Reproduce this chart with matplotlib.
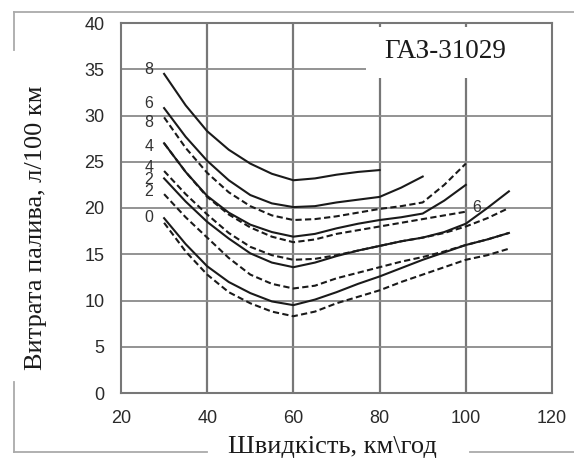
import matplotlib
matplotlib.use("Agg")
import matplotlib.pyplot as plt
from matplotlib.lines import Line2D
from matplotlib.patches import Rectangle

# ---- data ----
speed_30_80 = [30, 35, 40, 45, 50, 55, 60, 65, 70, 75, 80]
speed_30_90 = [30, 35, 40, 45, 50, 55, 60, 65, 70, 75, 80, 85, 90]
speed_30_100 = [30, 35, 40, 45, 50, 55, 60, 65, 70, 75, 80, 85, 90, 95, 100]
speed_30_110 = [30, 35, 40, 45, 50, 55, 60, 65, 70, 75, 80, 85, 90, 95, 100, 105, 110]

solid_8 = [34.5, 31.1, 28.3, 26.3, 24.8, 23.7, 23.0, 23.2, 23.6, 23.9, 24.1]
solid_6 = [30.8, 27.7, 25.1, 23.0, 21.4, 20.5, 20.1, 20.2, 20.6, 20.9, 21.2, 22.2, 23.4]
dashed_8 = [29.8, 26.5, 23.8, 21.7, 20.2, 19.2, 18.7, 18.8, 19.1, 19.5, 19.9, 20.2, 20.6, 22.5, 24.8]
solid_4 = [27.0, 23.9, 21.3, 19.5, 18.2, 17.4, 16.9, 17.2, 17.8, 18.3, 18.7, 19.0, 19.4, 20.8, 22.5]
dashed_6 = [27.0, 23.9, 21.2, 19.3, 17.9, 16.9, 16.3, 16.6, 17.2, 17.6, 18.0, 18.4, 18.8, 19.2, 19.6]
dashed_4 = [24.0, 21.5, 19.3, 17.3, 15.8, 14.9, 14.4, 14.5, 14.9, 15.4, 15.9, 16.4, 16.8, 17.3, 18.0, 18.9, 20.0]
solid_2 = [23.2, 20.7, 18.5, 16.7, 15.1, 14.1, 13.6, 14.1, 14.8, 15.4, 15.9, 16.4, 16.8, 17.4, 18.3, 20.0, 21.8]
dashed_2 = [21.5, 19.0, 16.8, 14.6, 12.8, 11.8, 11.3, 11.6, 12.4, 13.0, 13.6, 14.2, 14.7, 15.3, 16.0, 16.6, 17.3]
solid_0 = [18.9, 16.1, 13.7, 12.0, 10.8, 9.9, 9.5, 10.1, 10.9, 11.8, 12.6, 13.5, 14.4, 15.2, 16.0, 16.6, 17.3]
dashed_0 = [18.4, 15.3, 12.8, 10.9, 9.7, 8.8, 8.3, 8.8, 9.7, 10.4, 11.1, 12.0, 12.8, 13.6, 14.4, 14.9, 15.6]

curve_labels = ["8", "6", "8", "4", "4", "2", "2", "0"]
curve_label_y = [35.0, 31.3, 29.2, 26.7, 24.4, 23.1, 21.8, 19.0]
right_label = "6"
right_label_pos = (102.6, 20.0)

x_ticks = [20, 40, 60, 80, 100, 120]
y_ticks = [0, 5, 10, 15, 20, 25, 30, 35, 40]
title_text = "ГАЗ-31029"
x_label = "Швидкість, км\\год"
y_label = "Витрата палива, л/100 км"

# ---- figure ----
W, H = 574, 459
fig = plt.figure(figsize=(W / 100, H / 100), dpi=100)
ax = fig.add_axes([121 / W, 1 - 393 / H, (552 - 121) / W, (393 - 23) / H])
ax.set_xlim(20, 120)
ax.set_ylim(0, 40)

for xv in [40, 60, 80, 100]:
    ax.axvline(xv, color="#777777", lw=1.6, zorder=1)
for yv in [5, 10, 15, 20, 25, 30, 35]:
    ax.axhline(yv, color="#8a8a8a", lw=1.3, zorder=1)

# white box behind model name
ax.add_patch(Rectangle((76.8, 34.1), 42.9, 5.45, facecolor="white",
                       edgecolor="none", zorder=2))
ax.text(95.3, 36.9, title_text, fontsize=19.5, family="Liberation Serif",
        ha="center", va="center", color="#1a1a1a", zorder=3)

line_c = "#1a1a1a"
lw = 1.5
dash = (3.0, 1.6)
ax.plot(speed_30_80, solid_8, color=line_c, lw=lw, zorder=4)
ax.plot(speed_30_90, solid_6, color=line_c, lw=lw, zorder=4)
ax.plot(speed_30_100, dashed_8, color=line_c, lw=lw, dashes=dash, zorder=4)
ax.plot(speed_30_100, solid_4, color=line_c, lw=lw, zorder=4)
ax.plot(speed_30_100, dashed_6, color=line_c, lw=lw, dashes=dash, zorder=4)
ax.plot(speed_30_110, dashed_4, color=line_c, lw=lw, dashes=dash, zorder=4)
ax.plot(speed_30_110, solid_2, color=line_c, lw=lw, zorder=4)
ax.plot(speed_30_110, dashed_2, color=line_c, lw=lw, dashes=dash, zorder=4)
ax.plot(speed_30_110, solid_0, color=line_c, lw=lw, zorder=4)
ax.plot(speed_30_110, dashed_0, color=line_c, lw=lw, dashes=dash, zorder=4)

for lab, yv in zip(curve_labels, curve_label_y):
    ax.text(26.5, yv, lab, fontsize=11.5, family="Liberation Sans",
            ha="center", va="center", color="#333333", zorder=5)
ax.text(right_label_pos[0], right_label_pos[1], right_label, fontsize=11.5,
        family="Liberation Sans", ha="center", va="center", color="#333333", zorder=5)

ax.set_xticks(x_ticks)
ax.set_yticks(y_ticks)
ax.tick_params(length=0, pad=12, labelsize=13, labelcolor="#2a2a2a")
for lbl in ax.get_xticklabels() + ax.get_yticklabels():
    lbl.set_family("Liberation Sans")
for s in ax.spines.values():
    s.set_color("#777777")
    s.set_linewidth(1.5)
    s.set_zorder(6)

# axis labels
fig.text(332 / W, 1 - 453 / H, x_label, fontsize=19, family="Liberation Serif",
         ha="center", va="baseline", color="#1a1a1a")
fig.text(36 / W, 1 - 228 / H, y_label, fontsize=19, family="Liberation Serif",
         ha="center", va="center", rotation=90, color="#1a1a1a")

# outer frame segments
fc = "#aaaaaa"
def seg(x0, y0, x1, y1):
    fig.add_artist(Line2D([x0 / W, x1 / W], [1 - y0 / H, 1 - y1 / H],
                          transform=fig.transFigure, color=fc, lw=1.3))
seg(14, 12, 574, 12)
seg(14, 12, 14, 50)
seg(14, 382, 14, 452)
seg(14, 452, 207, 452)
seg(470, 452, 574, 452)

fig.savefig("out.png", dpi=100)
